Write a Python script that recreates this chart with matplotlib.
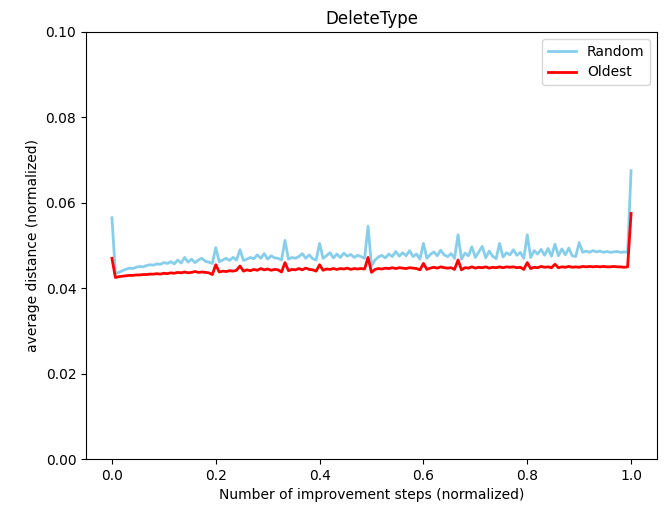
import numpy as np
import matplotlib
matplotlib.use("Agg")
import matplotlib.pyplot as plt

# average distance per (normalized) improvement step, one value per step
random_dist = [
    0.0565, 0.0435, 0.0437, 0.0441, 0.0444, 0.0447, 0.0446, 0.0449, 0.0451, 0.0450,
    0.0453, 0.0455, 0.0454, 0.0457, 0.0456, 0.0460, 0.0458, 0.0462, 0.0457, 0.0466,
    0.0459, 0.0472, 0.0461, 0.0468, 0.0460, 0.0466, 0.0470, 0.0463, 0.0461, 0.0458,
    0.0495, 0.0462, 0.0466, 0.0470, 0.0465, 0.0472, 0.0466, 0.0490, 0.0465, 0.0468,
    0.0472, 0.0469, 0.0478, 0.0470, 0.0481, 0.0468, 0.0476, 0.0471, 0.0470, 0.0466,
    0.0512, 0.0468, 0.0472, 0.0470, 0.0474, 0.0481, 0.0470, 0.0478, 0.0469, 0.0466,
    0.0505, 0.0470, 0.0476, 0.0483, 0.0471, 0.0480, 0.0472, 0.0482, 0.0475, 0.0479,
    0.0472, 0.0477, 0.0474, 0.0470, 0.0545, 0.0452, 0.0466, 0.0473, 0.0477, 0.0471,
    0.0480, 0.0474, 0.0486, 0.0475, 0.0483, 0.0476, 0.0488, 0.0474, 0.0480, 0.0468,
    0.0505, 0.0470, 0.0479, 0.0485, 0.0476, 0.0489, 0.0478, 0.0474, 0.0481, 0.0470,
    0.0525, 0.0468, 0.0482, 0.0476, 0.0497, 0.0472, 0.0485, 0.0498, 0.0471, 0.0487,
    0.0475, 0.0469, 0.0505, 0.0473, 0.0483, 0.0478, 0.0490, 0.0477, 0.0484, 0.0470,
    0.0525, 0.0472, 0.0488, 0.0480, 0.0491, 0.0477, 0.0493, 0.0475, 0.0503, 0.0476,
    0.0492, 0.0478, 0.0494, 0.0476, 0.0474, 0.0507, 0.0484, 0.0487, 0.0484, 0.0488,
    0.0485, 0.0487, 0.0484, 0.0486, 0.0484, 0.0485, 0.0486, 0.0484, 0.0485, 0.0484,
    0.0675,
]

oldest_dist = [
    0.0470, 0.0425, 0.0427, 0.0428, 0.0429, 0.0430, 0.0430, 0.0431, 0.0431, 0.0432,
    0.0432, 0.0433, 0.0433, 0.0434, 0.0433, 0.0435, 0.0434, 0.0436, 0.0435, 0.0437,
    0.0436, 0.0438, 0.0436, 0.0437, 0.0439, 0.0437, 0.0438, 0.0437, 0.0436, 0.0432,
    0.0455, 0.0438, 0.0440, 0.0439, 0.0441, 0.0440, 0.0442, 0.0452, 0.0440, 0.0443,
    0.0441, 0.0444, 0.0442, 0.0446, 0.0443, 0.0445, 0.0442, 0.0444, 0.0443, 0.0438,
    0.0460, 0.0441, 0.0444, 0.0443, 0.0446, 0.0443, 0.0447, 0.0444, 0.0443, 0.0440,
    0.0455, 0.0442, 0.0445, 0.0444, 0.0446, 0.0444, 0.0446, 0.0445, 0.0447, 0.0444,
    0.0446, 0.0445, 0.0446, 0.0445, 0.0472, 0.0437, 0.0444, 0.0446, 0.0445, 0.0447,
    0.0446, 0.0448, 0.0446, 0.0448, 0.0447, 0.0446, 0.0448, 0.0447, 0.0446, 0.0443,
    0.0458, 0.0444, 0.0447, 0.0449, 0.0447, 0.0450, 0.0448, 0.0447, 0.0448, 0.0444,
    0.0466, 0.0443, 0.0448, 0.0447, 0.0450, 0.0447, 0.0449, 0.0448, 0.0450, 0.0447,
    0.0449, 0.0448, 0.0450, 0.0448, 0.0450, 0.0449, 0.0450, 0.0448, 0.0449, 0.0444,
    0.0460, 0.0446, 0.0449, 0.0448, 0.0451, 0.0449, 0.0450, 0.0448, 0.0456, 0.0448,
    0.0450, 0.0449, 0.0451, 0.0449, 0.0450, 0.0449, 0.0451, 0.0450, 0.0451, 0.0450,
    0.0451, 0.0450, 0.0451, 0.0450, 0.0450, 0.0451, 0.0450, 0.0450, 0.0449, 0.0450,
    0.0575,
]

series = {"Random": (random_dist, "skyblue"), "Oldest": (oldest_dist, "red")}

fig = plt.figure(figsize=(6.64, 5.12), dpi=100)
ax = fig.add_axes([0.1295, 0.1035, 0.86, 0.834])

for label, (vals, color) in series.items():
    steps = np.arange(len(vals)) / (len(vals) - 1)
    ax.plot(steps, vals, color=color, linewidth=2, label=label)

ax.set_ylim(0, 0.1)
ax.set_xlim(-0.05, 1.05)
ax.set_title("DeleteType")
ax.set_xlabel("Number of improvement steps (normalized)")
ax.set_ylabel("average distance (normalized)")
ax.legend(loc="upper right")

fig.savefig("out.png", dpi=100)
